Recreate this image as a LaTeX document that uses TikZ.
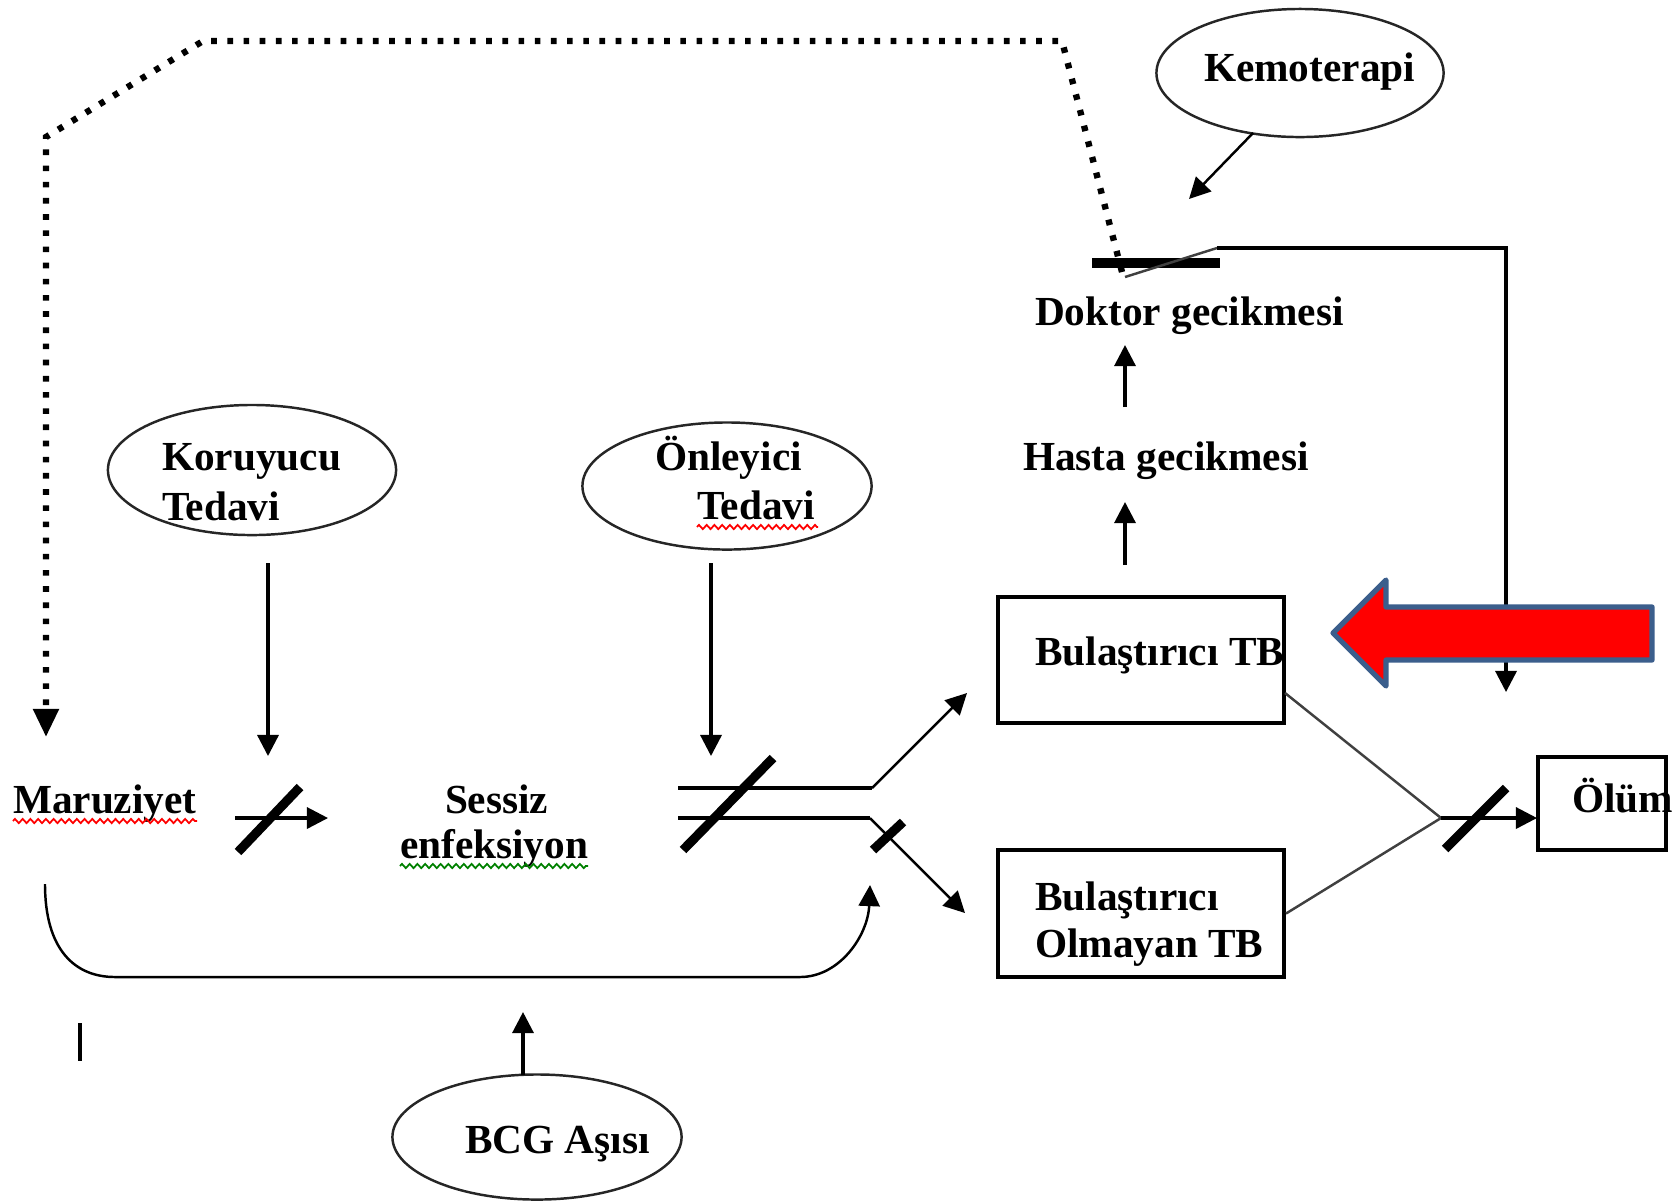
\documentclass[tikz,border=0pt]{standalone}
\usepackage{fontspec}
\setmainfont{Liberation Serif}
\usetikzlibrary{arrows.meta,shapes.geometric,decorations.pathmorphing}
\definecolor{arrowborder}{HTML}{3B5E8C}
\begin{document}
\begin{tikzpicture}[x=0.01cm,y=-0.01cm,
  lbl/.style={anchor=base west,inner sep=0pt,outer sep=0pt,font=\bfseries\fontsize{11.75pt}{14pt}\selectfont},
  oval/.style={draw,ellipse,line width=0.7pt,inner sep=0pt,draw=black!85},
  box/.style={draw,line width=1.1pt,inner sep=0pt},
  arr/.style={line width=0.9pt,-{Triangle[length=6pt,width=6pt]}},
  thinarr/.style={line width=0.7pt,-{Triangle[length=6pt,width=6pt]}},
  slash/.style={line width=2.6pt},
  thinline/.style={line width=0.7pt,draw=black!75},
  dots/.style={line width=1.8pt,dash pattern=on 1.6pt off 3pt},
  squig/.style={line width=0.5pt,decorate,decoration={zigzag,amplitude=0.6pt,segment length=2.2pt}},
]
\useasboundingbox (0,0) rectangle (1680,1202);

% ellipses
\node[oval,minimum width=2.88cm,minimum height=1.30cm] (koruyucu) at (252,470) {};
\node[oval,minimum width=2.89cm,minimum height=1.27cm] (onleyici) at (727,486) {};
\node[oval,minimum width=2.87cm,minimum height=1.28cm] (kemo) at (1300,73) {};
\node[oval,minimum width=2.89cm,minimum height=1.25cm] (bcg) at (537,1137) {};

% boxes
\node[box,minimum width=2.86cm,minimum height=1.26cm] (bulas) at (1141,660) {};
\node[box,minimum width=2.86cm,minimum height=1.27cm] (bulasol) at (1141,913.5) {};
\node[box,minimum width=1.28cm,minimum height=0.93cm] (olum) at (1602,803.5) {};

% texts
\node[lbl] (tKor1) at (162,470) {Koruyucu};
\node[lbl] (tKor2) at (162,520) {Tedavi};
\node[lbl] (tOn1) at (655,470) {Önleyici};
\node[lbl] (tOn2) at (697,519) {Tedavi};
\node[lbl] (tKemo) at (1204,81) {Kemoterapi};
\node[lbl] (tBcg) at (465,1153) {BCG Aşısı};
\node[lbl] (tMar) at (13,813) {Maruziyet};
\node[lbl] (tSes1) at (445,813) {Sessiz};
\node[lbl] (tSes2) at (400,858) {enfeksiyon};
\node[lbl] (tDok) at (1035,325) {Doktor gecikmesi};
\node[lbl] (tHas) at (1023,470) {Hasta gecikmesi};
\node[lbl] (tBul) at (1035,665) {Bulaştırıcı TB};
\node[lbl] (tBo1) at (1035,910) {Bulaştırıcı};
\node[lbl] (tBo2) at (1035,957) {Olmayan TB};
\node[lbl] (tOl) at (1572,812) {Ölüm};

% spelling squiggles
\draw[squig,red] (13,821) -- (197,821);
\draw[squig,red] (697,527) -- (818,527);
\draw[squig,green!50!black] (400,866) -- (588,866);

% coordinates
\coordinate (korA) at (268,563);
\coordinate (korB) at (268,756);
\coordinate (onA) at (711,563);
\coordinate (onB) at (711,756);
\coordinate (marA) at (235,818);
\coordinate (marB) at (328,818);
\coordinate (s1a) at (238,852);
\coordinate (s1b) at (300,787);
\coordinate (u1) at (678,788);
\coordinate (u2) at (872,788);
\coordinate (u3) at (967,693);
\coordinate (l1) at (678,818);
\coordinate (l2) at (870,818);
\coordinate (l3) at (965,913);
\coordinate (s2a) at (683,850);
\coordinate (s2b) at (773,758);
\coordinate (s3a) at (873,850);
\coordinate (s3b) at (903,822);
\coordinate (c0) at (45,884);
\coordinate (c1) at (115,977);
\coordinate (c2) at (800,977);
\coordinate (c3) at (870,885);
\coordinate (bcgA) at (523,1075);
\coordinate (bcgB) at (523,1012);
\coordinate (hasA) at (1125,565);
\coordinate (hasB) at (1125,502);
\coordinate (dokA) at (1125,407);
\coordinate (dokB) at (1125,345);
\coordinate (kemA) at (1253,133);
\coordinate (kemB) at (1189,199);
\coordinate (barA) at (1092,263);
\coordinate (barB) at (1220,263);
\coordinate (d0) at (1122,272);
\coordinate (d1) at (1062,41);
\coordinate (d2) at (203,41);
\coordinate (d3) at (46,137);
\coordinate (d4) at (46,737);
\coordinate (r0) at (1125,277);
\coordinate (r1) at (1217,248);
\coordinate (r2) at (1506,248);
\coordinate (r3) at (1506,692);
\coordinate (b1out) at (1285,693);
\coordinate (merge) at (1441,818);
\coordinate (olIn) at (1537,818);
\coordinate (s4a) at (1445,849);
\coordinate (s4b) at (1506,788);
\coordinate (cur1) at (80,1023);
\coordinate (cur2) at (80,1061);

% connectors
\draw[arr] (korA) -- (korB);
\draw[arr] (onA) -- (onB);
\draw[arr] (marA) -- (marB);
\draw[slash] (s1a) -- (s1b);
\draw[line width=0.9pt] (u1) -- (u2);
\draw[thinarr] (u2) -- (u3);
\draw[line width=0.9pt] (l1) -- (l2);
\draw[thinarr] (l2) -- (l3);
\draw[slash] (s2a) -- (s2b);
\draw[slash] (s3a) -- (s3b);
\draw[thinarr] (c0) .. controls (45,950) and (75,977) .. (c1) -- (c2) .. controls (840,977) and (868,935) .. (c3);
\draw[arr] (bcgA) -- (bcgB);
\draw[arr] (hasA) -- (hasB);
\draw[arr] (dokA) -- (dokB);
\draw[thinarr] (kemA) -- (kemB);
\draw[line width=3pt] (barA) -- (barB);
\draw[dots,-{Triangle[length=8pt,width=7pt]}] (d0) -- (d1) -- (d2) -- (d3) -- (d4);
\draw[thinline] (r0) -- (r1);
\draw[arr] (r1) -- (r2) -- (r3);
\draw[thinline] (b1out) -- (merge);
\draw[thinline] (bulasol.east) -- (merge);
\draw[arr] (merge) -- (olIn);
\draw[slash] (s4a) -- (s4b);
\draw[line width=1.2pt] (cur1) -- (cur2);

% red arrow (on top of the connector)
\filldraw[fill=red,draw=arrowborder,line width=1.5pt,line join=round]
  (1333,633) -- (1386,580) -- (1386,607) -- (1652,607) -- (1652,660) -- (1386,660) -- (1386,686) -- cycle;
\end{tikzpicture}
\end{document}
